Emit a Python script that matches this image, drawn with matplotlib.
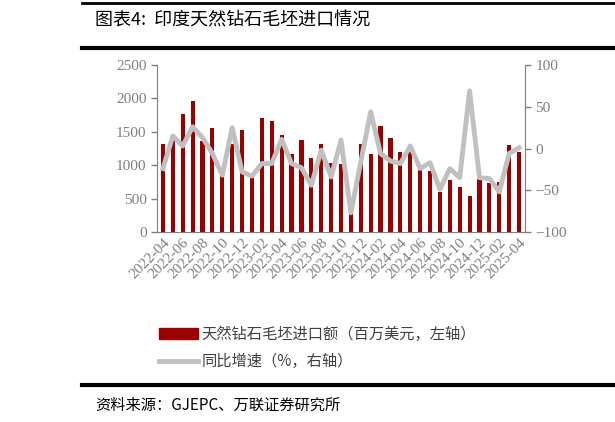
import matplotlib
matplotlib.use("Agg")
import matplotlib.pyplot as plt
import numpy as np
from matplotlib.lines import Line2D
from matplotlib.patches import Patch

months = [f"{y}-{m:02d}" for y in (2022, 2023, 2024, 2025) for m in range(1, 13)][3:40]
imports = [1310, 1400, 1770, 1960, 1360, 1560, 870, 1320, 1530, 870, 1700, 1660,
           1450, 1170, 1370, 1110, 1320, 1040, 1020, 280, 1310, 1170, 1590, 1400,
           1200, 1200, 1000, 920, 600, 780, 670, 540, 800, 740, 750, 1300, 1200]
yoy = [-24, 15, 3, 26, 13, -6, -32, 25, -28, -33, -18, -18, 11, -18, -23, -44,
       -2, -34, 10, -77, -16, 44, -6, -15, -18, 3, -24, -17, -49, -24, -35, 69,
       -35, -36, -52, -6, 1]

CJK = ["Noto Sans CJK SC", "DejaVu Sans"]
SERIF = ["Liberation Serif", "DejaVu Serif"]
grey = "#7f7f7f"

fig = plt.figure(figsize=(6.15, 4.22), dpi=100)
ax = fig.add_axes([157 / 615, 1 - 232 / 422, 368 / 615, 167 / 422])
x = np.arange(len(months))
ax.bar(x, imports, width=0.42, color="#990000")
ax.set_ylim(0, 2500)
ax.set_yticks(range(0, 2501, 500))
ax.set_xlim(-0.6, len(months) - 0.4)
ax2 = ax.twinx()
ax2.plot(x, yoy, color="#c0c0c0", lw=3.5)
ax2.set_ylim(-100, 100)
ax2.set_yticks(range(-100, 101, 50))

ax.set_xticks(x[::2])
ax.set_xticklabels(months[::2], rotation=45, ha="right", rotation_mode="anchor",
                   family=SERIF, fontsize=10.5, color=grey)
for a in (ax, ax2):
    for s in a.spines.values():
        s.set_visible(False)
    a.tick_params(labelsize=11, colors=grey, length=4, width=1, direction="out")
    for t in a.get_yticklabels():
        t.set_family(SERIF)
ax.spines["left"].set_visible(True)
ax.spines["bottom"].set_visible(True)
ax2.spines["right"].set_visible(True)
for s in (ax.spines["left"], ax.spines["bottom"], ax2.spines["right"]):
    s.set_color(grey)
ax.tick_params(axis="x", length=0, pad=3)

handles = [Patch(color="#990000"), Line2D([], [], color="#c0c0c0", lw=3.5)]
fig.legend(handles, ["天然钻石毛坯进口额（百万美元，左轴）", "同比增速（%，右轴）"],
           loc="upper left", bbox_to_anchor=(145 / 615, 1 - 312 / 422), frameon=False,
           prop={"family": CJK, "size": 11}, labelcolor="#404040", handlelength=2.6,
           handletextpad=0.2, labelspacing=0.7)

for y, lw in ((3, 2), (48, 3), (385, 3)):
    fig.add_artist(Line2D([82 / 615, 1], [1 - y / 422] * 2, color="black", lw=lw))
fig.text(95 / 615, 1 - 20 / 422, "图表4:  印度天然钻石毛坯进口情况", family=CJK,
         fontsize=13, va="center")
fig.text(95 / 615, 1 - 405 / 422, "资料来源：GJEPC、万联证券研究所", family=CJK,
         fontsize=11, style="italic", va="center")

fig.savefig("out.png", dpi=100)
